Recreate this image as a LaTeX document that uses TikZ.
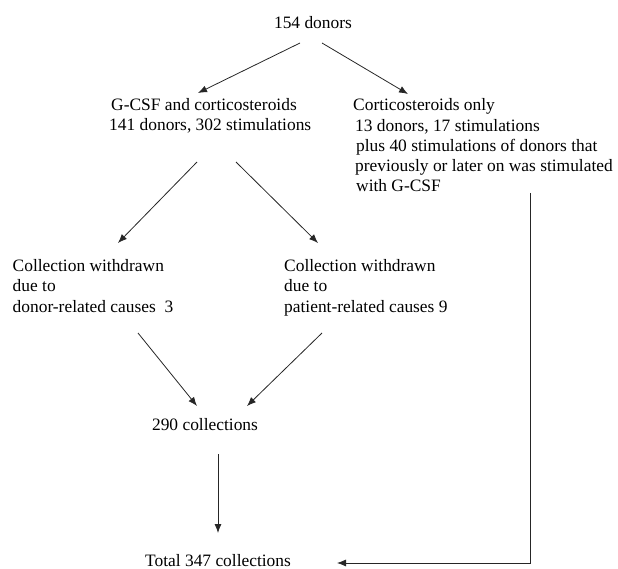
\documentclass[tikz,border=0pt]{standalone}
\usepackage{fontspec}
\setmainfont{Liberation Serif}
\usetikzlibrary{arrows.meta}
\begin{document}
\begin{tikzpicture}[x=1pt,y=-1pt,
  txt/.style={anchor=base west, inner sep=0pt, align=left, font=\fontsize{17.4}{20.3}\selectfont},
  arr/.style={-{Latex[length=9pt,width=7pt]}, line width=0.8pt, draw=black!85},
  ln/.style={line width=0.8pt, draw=black!85}]
\useasboundingbox (0,0) rectangle (618,569);
\node[txt, anchor=base] (top) at (313,29) {154 donors};
\node[txt] (gcsf) at (109,130.5) {\hspace*{2pt}G-CSF and corticosteroids\\141 donors, 302 stimulations};
\node[txt] (cort) at (353,192) {Corticosteroids only\\\hspace*{2pt}13 donors, 17 stimulations\\\hspace*{3pt}plus 40 stimulations of donors that\\\hspace*{2pt}previously or later on was stimulated\\\hspace*{3pt}with G-CSF};
\node[txt] (donor) at (12.5,312) {Collection withdrawn\\due to\\donor-related causes\ \ 3};
\node[txt] (patient) at (284,312) {Collection withdrawn\\due to\\patient-related causes 9};
\node[txt, anchor=base] (c290) at (205,430) {290 collections};
\node[txt] (total) at (145,566) {Total 347 collections};
\coordinate (a1s) at (300,43); \coordinate (a1e) at (198,93);
\coordinate (a2s) at (322,43); \coordinate (a2e) at (408,94);
\coordinate (b1s) at (197,162); \coordinate (b1e) at (118,243);
\coordinate (b2s) at (236,162); \coordinate (b2e) at (318,243);
\coordinate (c1s) at (138,333); \coordinate (c1e) at (197,406);
\coordinate (c2s) at (322,333); \coordinate (c2e) at (247,406);
\coordinate (ds) at (218,454); \coordinate (de) at (218,533);
\coordinate (rs) at (530,193); \coordinate (rc) at (530,563); \coordinate (re) at (337,563);
\draw[arr] (a1s) -- (a1e);
\draw[arr] (a2s) -- (a2e);
\draw[arr] (b1s) -- (b1e);
\draw[arr] (b2s) -- (b2e);
\draw[arr] (c1s) -- (c1e);
\draw[arr] (c2s) -- (c2e);
\draw[arr] (ds) -- (de);
\draw[arr] (rs) -- (rc) -- (re);
\end{tikzpicture}
\end{document}
